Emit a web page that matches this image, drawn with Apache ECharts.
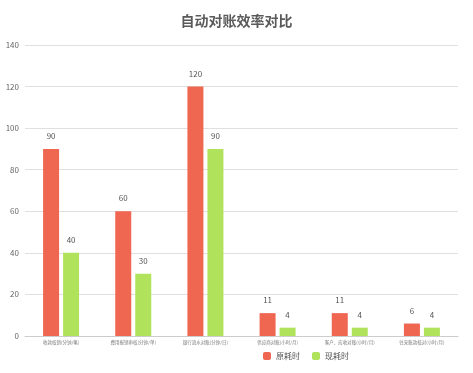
<!DOCTYPE html>
<html><head><meta charset="utf-8">
<script src="https://cdn.jsdelivr.net/npm/echarts@6/dist/echarts.min.js"></script>
<style>html,body{margin:0;padding:0;background:#fff}#c{width:473px;height:373px}</style>
</head><body><div id="c"></div>
<script>
const categories = ['收款核销(分钟/笔)','费用报销审核(分钟/单)','银行流水对账(分钟/日)','供应商对账(小时/月)','客户、应收对账(小时/月)','往来账款核对(小时/月)'];
const seriesNames = ['原耗时','现耗时'];
const beforeValues = [90, 60, 120, 11, 11, 6];
const afterValues = [40, 30, 90, 4, 4, 4];
const yTicks = {min: 0, max: 140, interval: 20};

const chart = echarts.init(document.getElementById('c'));
const font = '"Noto Sans CJK SC", "Noto Sans", sans-serif';
chart.setOption({
  animation: false,
  title: {text: '自动对账效率对比', left: 'center', top: 9,
    textStyle: {fontSize: 14, fontWeight: 'bold', color: '#5a5a5a', fontFamily: font}},
  legend: {data: seriesNames, bottom: 8, left: 258, itemWidth: 8, itemHeight: 8, itemGap: 12,
    textStyle: {fontSize: 8, color: '#555', fontFamily: font}},
  grid: {left: 25, right: 15, top: 45, bottom: 37, containLabel: false},
  xAxis: {type: 'category', data: categories,
    axisLine: {lineStyle: {color: '#ccc'}}, axisTick: {show: false},
    axisLabel: {fontSize: 4.5, color: '#777', interval: 0, margin: 4, fontFamily: font}},
  yAxis: {type: 'value', min: yTicks.min, max: yTicks.max, interval: yTicks.interval,
    axisLine: {show: false}, axisTick: {show: false},
    axisLabel: {fontSize: 8, color: '#666', margin: 6, fontFamily: font},
    splitLine: {lineStyle: {color: '#e0e0e0'}}},
  series: [
    {name: seriesNames[0], type: 'bar', data: beforeValues, barWidth: 16, barGap: '25%',
      itemStyle: {color: '#ef6651'},
      label: {show: true, position: 'top', distance: 9, fontSize: 8, color: '#555', fontFamily: font}},
    {name: seriesNames[1], type: 'bar', data: afterValues, barWidth: 16,
      itemStyle: {color: '#b0e35b'},
      label: {show: true, position: 'top', distance: 9, fontSize: 8, color: '#555', fontFamily: font}}
  ]
});
</script></body></html>
